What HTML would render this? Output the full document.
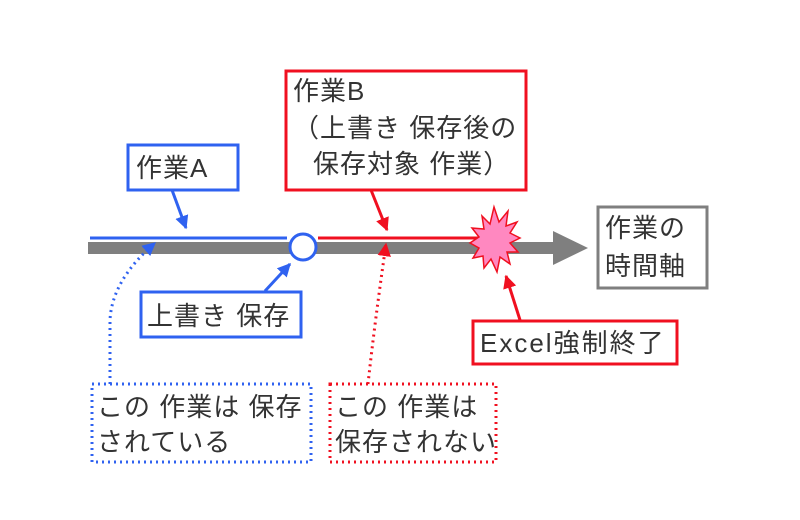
<!DOCTYPE html>
<html><head><meta charset="utf-8"><style>
html,body{margin:0;padding:0;background:#fff;width:800px;height:520px;overflow:hidden}
text{font-family:"Liberation Sans","Noto Sans CJK JP",sans-serif;font-size:26px;fill:#333;letter-spacing:1px}
</style></head><body>
<svg width="800" height="520" viewBox="0 0 800 520" xmlns="http://www.w3.org/2000/svg">
<defs>
<marker id="ab" viewBox="0 0 10 10" refX="9" refY="5" markerWidth="4.5" markerHeight="4.5" orient="auto"><path d="M0,0 L10,5 L0,10 z" fill="#2f62f0"/></marker>
<marker id="ar" viewBox="0 0 10 10" refX="9" refY="5" markerWidth="4.5" markerHeight="4.5" orient="auto"><path d="M0,0 L10,5 L0,10 z" fill="#f01020"/></marker>
</defs>
<rect x="88" y="242" width="468" height="12" fill="#7f7f7f"/>
<polygon points="553,231 588,248 553,265" fill="#7f7f7f"/>
<line x1="90" y1="238" x2="287" y2="238" stroke="#2f62f0" stroke-width="3"/>
<line x1="318" y1="238" x2="480" y2="238" stroke="#f01020" stroke-width="3"/>
<circle cx="303" cy="247" r="13" fill="#fff" stroke="#2f62f0" stroke-width="3"/>
<polygon points="494,207 499,222 508,211 506,226 517,222 510,233 520,238 510,243 518,252 507,252 510,264 500,257 497,272 491,259 484,268 483,256 473,258 479,248 470,243 479,237 472,228 484,229 482,216 490,224" fill="#ff88c0" stroke="#f01020" stroke-width="1.5"/>
<rect x="128" y="145" width="110" height="45" fill="#fff" stroke="#2f62f0" stroke-width="3"/>
<text x="136" y="177">作業A</text>
<rect x="286" y="71" width="240" height="119" fill="#fff" stroke="#f01020" stroke-width="3"/>
<text x="293" y="100">作業B</text>
<text x="293" y="137">（上書き 保存後の</text>
<text x="313" y="173">保存対象 作業）</text>
<rect x="598" y="207" width="109" height="81" fill="#fff" stroke="#7f7f7f" stroke-width="3"/>
<text x="605" y="237">作業の</text>
<text x="605" y="275">時間軸</text>
<rect x="141" y="292" width="160" height="45" fill="#fff" stroke="#2f62f0" stroke-width="3"/>
<text x="147" y="325">上書き 保存</text>
<rect x="473" y="321" width="204" height="43" fill="#fff" stroke="#f01020" stroke-width="3"/>
<text x="480" y="352" style="letter-spacing:2px">Excel強制終了</text>
<rect x="92" y="384" width="219" height="78" fill="none" stroke="#2f62f0" stroke-width="3" stroke-dasharray="2,4"/>
<text x="97" y="416">この 作業は 保存</text>
<text x="97" y="451">されている</text>
<rect x="330" y="384" width="166" height="78" fill="none" stroke="#f01020" stroke-width="3" stroke-dasharray="2,4"/>
<text x="335" y="416">この 作業は</text>
<text x="335" y="451">保存されない</text>
<line x1="172" y1="190" x2="186" y2="228" stroke="#2f62f0" stroke-width="3" marker-end="url(#ab)"/>
<line x1="371" y1="190" x2="387" y2="230" stroke="#f01020" stroke-width="3" marker-end="url(#ar)"/>
<line x1="265" y1="291" x2="290" y2="264" stroke="#2f62f0" stroke-width="3" marker-end="url(#ab)"/>
<line x1="520" y1="320" x2="506" y2="276" stroke="#f01020" stroke-width="3" marker-end="url(#ar)"/>
<path d="M110,384 L110,320 Q112,280 155,243" fill="none" stroke="#2f62f0" stroke-width="3" stroke-dasharray="2,4" marker-end="url(#ab)"/>
<path d="M368,384 Q375,320 386,244" fill="none" stroke="#f01020" stroke-width="3" stroke-dasharray="2,4" marker-end="url(#ar)"/>
</svg>
</body></html>
